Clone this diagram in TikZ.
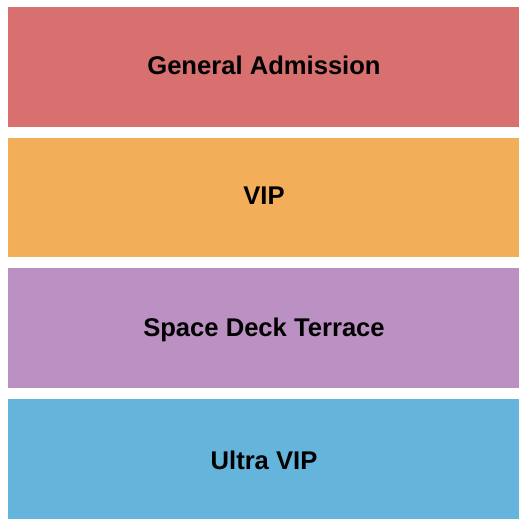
\documentclass[tikz,border=0pt]{standalone}
\usepackage{fontspec}
\setmainfont{Liberation Sans}
\definecolor{cga}{HTML}{D7706E}
\definecolor{cvip}{HTML}{F3AE5A}
\definecolor{csdt}{HTML}{BB90C3}
\definecolor{cuvip}{HTML}{64B4DC}
\tikzset{
  section/.style={minimum width=510.5pt, minimum height=119.8pt, inner sep=0pt, draw=none},
  sectlabel/.style={anchor=base, inner sep=0pt, font=\fontsize{25.6pt}{30pt}\selectfont\bfseries, text=black}
}
\begin{document}
\begin{tikzpicture}[x=1pt,y=-1pt]
\useasboundingbox (0,0) rectangle (525,525);
\node[section, fill=cga]   (ga)   at (263.25,66.9)  {};
\node[section, fill=cvip]  (vip)  at (263.25,197.5) {};
\node[section, fill=csdt]  (sdt)  at (263.25,328.1) {};
\node[section, fill=cuvip] (uvip) at (263.25,458.7) {};
\node[sectlabel] (gat)   at (264,74.3)  {General Admission};
\node[sectlabel] (vipt)  at (264,204.3) {VIP};
\node[sectlabel] (sdtt)  at (264,336.7) {Space Deck Terrace};
\node[sectlabel] (uvipt) at (264,469.3) {Ultra VIP};
\end{tikzpicture}
\end{document}
